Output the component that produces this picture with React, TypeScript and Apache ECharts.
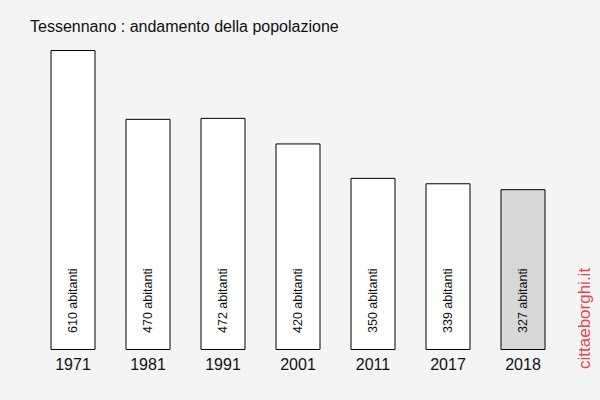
import React, { useEffect, useRef } from "react";
import * as echarts from "echarts";

const years = ["1971", "1981", "1991", "2001", "2011", "2017", "2018"];
const population = [610, 470, 472, 420, 350, 339, 327];
const titleText = "Tessennano : andamento della popolazione";
const watermark = "cittaeborghi.it";

export default function App() {
  const ref = useRef<HTMLDivElement>(null);
  useEffect(() => {
    const chart = echarts.init(ref.current!, null, { renderer: "svg" });
    chart.setOption({
      animation: false,
      backgroundColor: "#f4f4f4",
      textStyle: { fontFamily: "Liberation Sans, Arial, sans-serif" },
      title: {
        text: titleText,
        left: 25,
        top: 13,
        textStyle: { fontSize: 16, fontWeight: "normal", color: "#111", fontFamily: "Liberation Sans, Arial, sans-serif" },
      },
      grid: { left: 35.5, right: 39.5, top: 50, bottom: 50, containLabel: false },
      xAxis: {
        type: "category",
        data: years,
        axisLine: { show: false },
        axisTick: { show: false },
        axisLabel: { fontSize: 16, color: "#111", margin: 6, fontFamily: "Liberation Sans, Arial, sans-serif" },
      },
      yAxis: {
        type: "value",
        min: 0,
        max: 610,
        show: false,
        splitLine: { show: false },
      },
      series: [
        {
          type: "bar",
          barWidth: 45,
          data: population.map((v, i) => ({
            value: v,
            itemStyle: {
              color: i === population.length - 1 ? "#d8d8d8" : "#ffffff",
              borderColor: "#000",
              borderWidth: 1,
            },
          })),
          label: {
            show: true,
            position: "insideBottom",
            rotate: 90,
            align: "left",
            verticalAlign: "middle",
            distance: 17,
            fontSize: 12.5,
            color: "#111",
            fontFamily: "Liberation Sans, Arial, sans-serif",
            formatter: (p: any) => `${p.value} abitanti`,
          },
        },
      ],
      graphic: [
        {
          type: "text",
          x: 584,
          y: 369,
          rotation: Math.PI / 2,
          style: {
            text: watermark,
            fill: "#e8444f",
            fontSize: 17,
            fontFamily: "Liberation Sans, Arial, sans-serif",
            textVerticalAlign: "middle",
            textAlign: "left",
          },
        },
      ],
    });
    return () => chart.dispose();
  }, []);
  return <div ref={ref} style={{ width: 600, height: 400, position: "absolute", left: 0, top: 0 }} />;
}
